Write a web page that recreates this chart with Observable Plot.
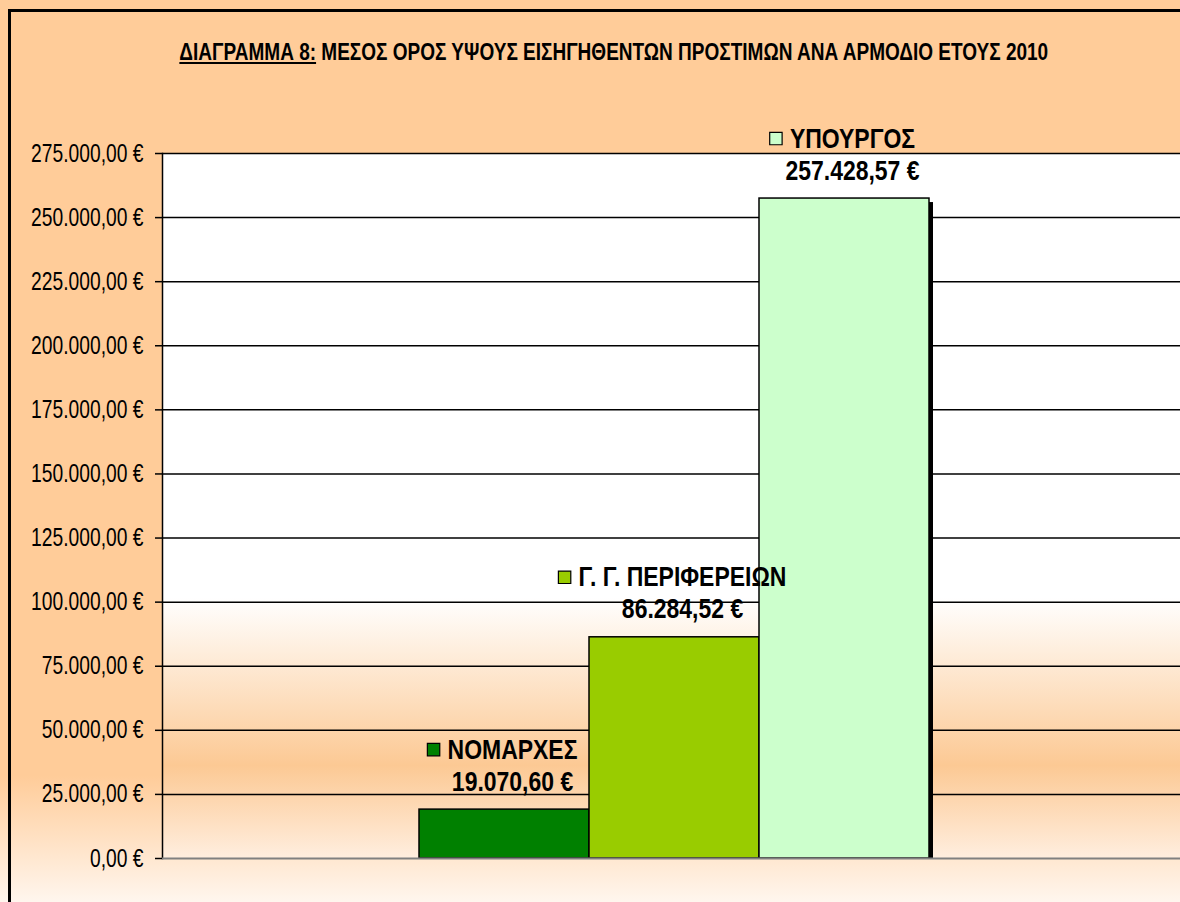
<!DOCTYPE html>
<html>
<head>
<meta charset="utf-8">
<script src="https://cdn.jsdelivr.net/npm/d3@7"></script>
<script src="https://cdn.jsdelivr.net/npm/@observablehq/plot@0.6"></script>
<style>
  html, body { margin: 0; padding: 0; width: 1180px; height: 902px; overflow: hidden; }
  body {
    background: linear-gradient(to bottom, #FFCC99 0%, #FFCC99 86%, #FFF6EE 100%);
    position: relative;
    font-family: "Liberation Sans", Arial, sans-serif;
  }
  #frame { position: absolute; left: 8px; top: 9px; right: -10px; bottom: -10px;
           border-left: 3px solid #000; border-top: 3px solid #000; pointer-events: none; z-index: 5; }
  #title { position: absolute; left: -100px; width: 1428px; top: 38px; text-align: center;
           font-weight: bold; font-size: 23.2px; color: #000; line-height: 28px; white-space: nowrap; }
  #title span { display: inline-block; transform: scaleX(0.82); transform-origin: 50% 50%; }
  #title u { text-decoration: underline; }
  #chart { position: absolute; left: 0; top: 100px; }
</style>
</head>
<body>
<div id="frame"></div>
<div id="title"><span><u>ΔΙΑΓΡΑΜΜΑ 8:</u> ΜΕΣΟΣ ΟΡΟΣ ΥΨΟΥΣ ΕΙΣΗΓΗΘΕΝΤΩΝ ΠΡΟΣΤΙΜΩΝ ΑΝΑ ΑΡΜΟΔΙΟ ΕΤΟΥΣ 2010</span></div>
<div id="chart"></div>
<script>
const categories = ["ΝΟΜΑΡΧΕΣ", "Γ. Γ. ΠΕΡΙΦΕΡΕΙΩΝ", "ΥΠΟΥΡΓΟΣ"];
const values = [19070.60, 86284.52, 257428.57];
const valueLabels = ["19.070,60 €", "86.284,52 €", "257.428,57 €"];
const colors = ["#008000", "#99CC00", "#CCFFCC"];
const yTicks = [0, 25000, 50000, 75000, 100000, 125000, 150000, 175000, 200000, 225000, 250000, 275000];
const yTickLabels = ["0,00 €", "25.000,00 €", "50.000,00 €", "75.000,00 €", "100.000,00 €", "125.000,00 €",
  "150.000,00 €", "175.000,00 €", "200.000,00 €", "225.000,00 €", "250.000,00 €", "275.000,00 €"];

const FONT = "'Liberation Sans', Arial, sans-serif";
const NARROW = 0.82;      // emulate a narrow face by compressing glyphs horizontally
const NARROW_TICK = 0.77;
const LABEL_SIZE = 28;
const data = categories.map((c, i) => ({cat: c, val: values[i], label: valueLabels[i]}));

// measure label text widths so legend keys sit left of the name
const ctx = document.createElement("canvas").getContext("2d");
ctx.font = `bold ${LABEL_SIZE}px ${FONT}`;
const labelDx = 8;
const keyMarks = data.map(d => {
  const w = ctx.measureText(d.cat).width * NARROW;
  return Plot.dot([d], {x: "cat", y: "val", symbol: "square", r: 7, fill: "cat",
    stroke: "#000", strokeWidth: 1.2, dx: labelDx - w / 2 - 14, dy: -60});
});

const chart = Plot.plot({
  width: 1180,
  height: 802,
  marginTop: 53,
  marginBottom: 44,
  marginLeft: 162,
  marginRight: 0,
  style: {background: "transparent", fontFamily: FONT, overflow: "visible"},
  x: {domain: categories, paddingInner: 0, paddingOuter: 1.485, align: 0.505, axis: null},
  y: {domain: [0, 275000], axis: null},
  color: {domain: categories, range: colors},
  marks: [
    Plot.frame({fill: "url(#plotbg)", stroke: "none"}),
    Plot.ruleY(yTicks.filter(d => d > 0), {stroke: "#000", strokeWidth: 1.5}),
    Plot.axisY({ticks: yTicks, tickFormat: d => yTickLabels[yTicks.indexOf(d)], tickSize: 7,
      tickPadding: 12, fontSize: 25, stroke: "#000", strokeWidth: 1.5, color: "#000", label: null,
      className: "yaxis"}),
    Plot.frame({anchor: "left", stroke: "#000", strokeWidth: 1.5}),
    Plot.rectY(data, {x: "cat", y1: 0, y2: "val", fill: "#000", dx: 4, dy: 4, insetBottom: 4}),
    Plot.barY(data, {x: "cat", y: "val", fill: "cat", stroke: "#000", strokeWidth: 1.5}),
    Plot.ruleY([0], {stroke: "#808080", strokeWidth: 2}),
    ...keyMarks,
    Plot.text(data, {x: "cat", y: "val", text: "cat", dx: labelDx, dy: -60, fontSize: LABEL_SIZE,
      fontWeight: "bold", fill: "#000"}),
    Plot.text(data, {x: "cat", y: "val", text: "label", dx: labelDx, dy: -28, fontSize: LABEL_SIZE,
      fontWeight: "bold", fill: "#000"})
  ]
});

// plot-area background gradient
const ns = "http://www.w3.org/2000/svg";
const defs = document.createElementNS(ns, "defs");
defs.innerHTML = `<linearGradient id="plotbg" x1="0" y1="0" x2="0" y2="1">
  <stop offset="0" stop-color="#FFFFFF"/>
  <stop offset="0.63" stop-color="#FFFFFF"/>
  <stop offset="0.868" stop-color="#FCC994"/>
  <stop offset="1" stop-color="#FFEEDF"/>
</linearGradient>`;
chart.insertBefore(defs, chart.firstChild);
document.getElementById("chart").appendChild(chart);
// compress all chart texts horizontally (narrow face look)
chart.querySelectorAll("text").forEach(t => {
  const len = t.getComputedTextLength();
  if (len > 0) {
    const f = t.closest(".yaxis") ? NARROW_TICK : NARROW;
    t.setAttribute("textLength", (len * f).toFixed(1));
    t.setAttribute("lengthAdjust", "spacingAndGlyphs");
  }
});
</script>
</body>
</html>
